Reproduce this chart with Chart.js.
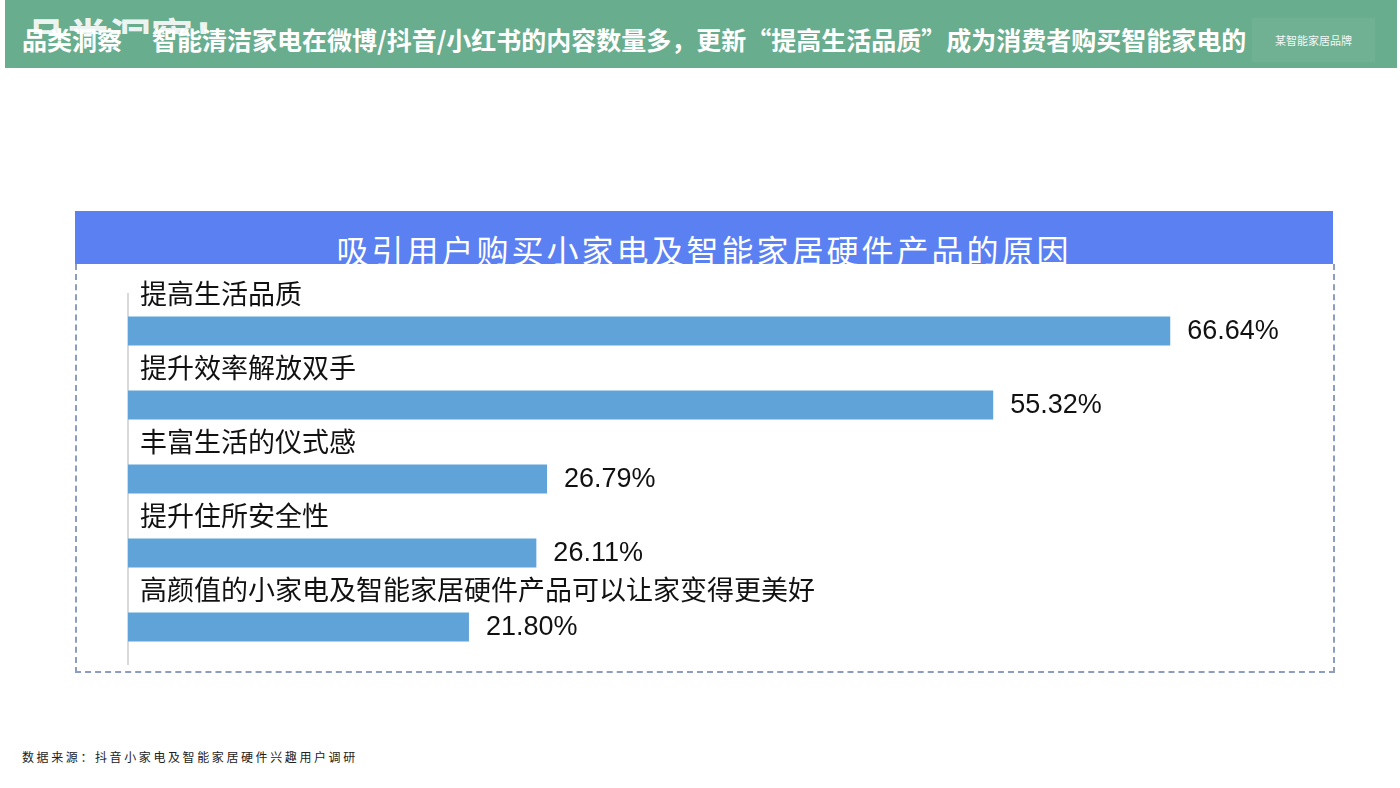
<!DOCTYPE html>
<html lang="zh-CN">
<head>
<meta charset="utf-8">
<script src="https://cdn.jsdelivr.net/npm/chart.js@4"></script>
<style>
  html, body { margin: 0; padding: 0; background: #fff; }
  body { width: 1400px; height: 788px; position: relative; overflow: hidden; font-family: "Noto Sans CJK SC", sans-serif; }
  .banner { position: absolute; left: 5px; top: 0; width: 1392px; height: 68px; background: #69ad8f; overflow: hidden; }
  .ghost { position: absolute; left: 20px; top: 12px; height: 22px; overflow: hidden; color: rgba(255,255,255,0.9); font-size: 42px; font-weight: 700; line-height: 48px; }
  .headline { position: absolute; left: 17px; top: 25px; color: #fff; font-size: 25px; font-weight: 700; line-height: 29px; white-space: nowrap; }
  .headline .gap { display: inline-block; width: 30px; }
  .brand { position: absolute; left: 1247px; top: 18px; width: 123px; height: 44px; background: #70b194; font-size: 11px; line-height: 44px; text-align: center; color: #f2f7f4; }
  .panelHead { position: absolute; left: 75px; top: 211px; width: 1258px; height: 53px; background: #5a80f2; overflow: hidden; }
  .panelHead span { position: absolute; left: 0; width: 100%; top: 22px; text-align: center; color: #fff; font-size: 32px; line-height: 32px; letter-spacing: 3px; white-space: nowrap; }
  .panel { position: absolute; left: 75px; top: 264px; width: 1256px; height: 407px; border: 2px dashed #8c9cc2; border-top: none; }
  #chartWrap { position: absolute; left: 76px; top: 264px; width: 1257px; height: 409px; }
  .source { position: absolute; left: 22px; top: 748px; font-size: 12px; letter-spacing: 2.6px; color: #222; }
</style>
</head>
<body>
  <div class="banner">
    <div class="ghost">品类洞察！</div>
    <div class="headline">品类洞察<span class="gap"></span>智能清洁家电在微博/抖音/小红书的内容数量多，更新“提高生活品质”成为消费者购买智能家电的</div>
    <div class="brand">某智能家居品牌</div>
  </div>
  <div class="panelHead"><span>吸引用户购买小家电及智能家居硬件产品的原因</span></div>
  <div class="panel"></div>
  <div id="chartWrap"><canvas id="reasonChart" width="1257" height="409"></canvas></div>
  <div class="source">数据来源：抖音小家电及智能家居硬件兴趣用户调研</div>

<script>
  const reasons = [
    '提高生活品质',
    '提升效率解放双手',
    '丰富生活的仪式感',
    '提升住所安全性',
    '高颜值的小家电及智能家居硬件产品可以让家变得更美好'
  ];
  const shares = [66.64, 55.32, 26.79, 26.11, 21.80];
  const axisMax = 75;

  // category text above each bar, value to the right of it
  const barLabels = {
    id: 'barLabels',
    afterDatasetsDraw: function (chart) {
      const ctx = chart.ctx;
      const meta = chart.getDatasetMeta(0);
      ctx.save();
      ctx.fillStyle = '#111';
      ctx.textBaseline = 'middle';
      meta.data.forEach(function (bar, i) {
        ctx.font = '27px "Noto Sans CJK SC"';
        ctx.textAlign = 'left';
        ctx.fillText(reasons[i], chart.chartArea.left + 12, bar.y - 37);
        ctx.font = '27px "Liberation Sans", Arial';
        ctx.fillText(shares[i].toFixed(2) + '%', bar.x + 17, bar.y + 1);
      });
      ctx.restore();
    }
  };

  new Chart(document.getElementById('reasonChart'), {
    type: 'bar',
    data: {
      labels: reasons,
      datasets: [{
        data: shares,
        backgroundColor: '#5fa3d9',
        borderWidth: 0,
        barPercentage: 0.39,
        categoryPercentage: 1
      }]
    },
    options: {
      indexAxis: 'y',
      responsive: false,
      animation: false,
      layout: { padding: { left: 52, top: 30, right: 32, bottom: 9 } },
      plugins: { legend: { display: false }, tooltip: { enabled: false } },
      scales: {
        x: { display: false, min: 0, max: axisMax },
        y: {
          ticks: { display: false },
          grid: { display: false, drawTicks: false },
          border: { color: '#d9d9d9', width: 2 },
          afterFit: function (scale) { scale.width = 0; }
        }
      }
    },
    plugins: [barLabels]
  });
</script>
</body>
</html>
